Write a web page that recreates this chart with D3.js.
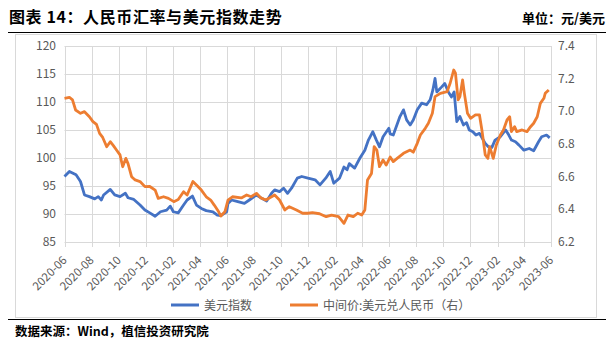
<!DOCTYPE html>
<html>
<head>
<meta charset="utf-8">
<script src="https://cdn.jsdelivr.net/npm/d3@7"></script>
<style>
  body { margin: 0; background: #fff; }
  text { font-family: "Noto Sans CJK SC", "Noto Sans", sans-serif; }
</style>
</head>
<body>
<script>
// 美元指数 (left axis)
const dxy = [
  ["2020-06-01", 96.7], ["2020-06-12", 97.6], ["2020-06-27", 97.0], ["2020-07-07", 95.8],
  ["2020-07-16", 93.4], ["2020-07-27", 93.1], ["2020-08-08", 92.7], ["2020-08-16", 93.1],
  ["2020-08-23", 92.5], ["2020-08-28", 93.4], ["2020-09-12", 94.4], ["2020-09-22", 93.4],
  ["2020-10-04", 93.1], ["2020-10-16", 93.7], ["2020-10-22", 92.9], ["2020-11-04", 92.6],
  ["2020-11-18", 91.6], ["2020-11-29", 90.7], ["2020-12-10", 90.2], ["2020-12-22", 89.6],
  ["2021-01-03", 90.4], ["2021-01-17", 90.7], ["2021-01-25", 91.4], ["2021-02-01", 90.4],
  ["2021-02-12", 90.2], ["2021-02-24", 91.6], ["2021-03-04", 92.5], ["2021-03-16", 93.2],
  ["2021-03-25", 91.6], ["2021-04-05", 91.0], ["2021-04-16", 90.6], ["2021-05-01", 90.4],
  ["2021-05-11", 89.8], ["2021-05-19", 89.7], ["2021-06-01", 90.4], ["2021-06-04", 91.9],
  ["2021-06-12", 92.5], ["2021-06-26", 92.2], ["2021-07-11", 91.9], ["2021-07-22", 92.5],
  ["2021-08-07", 93.4], ["2021-08-19", 92.8], ["2021-08-30", 92.3], ["2021-09-10", 93.7],
  ["2021-09-17", 94.3], ["2021-09-28", 94.0], ["2021-10-07", 94.6], ["2021-10-16", 93.7],
  ["2021-10-25", 94.6], ["2021-11-07", 96.4], ["2021-11-17", 96.7], ["2021-12-01", 96.4],
  ["2021-12-17", 96.1], ["2021-12-28", 95.2], ["2022-01-10", 96.4], ["2022-01-20", 97.6],
  ["2022-01-28", 95.5], ["2022-02-10", 96.4], ["2022-02-20", 98.4], ["2022-02-27", 97.9],
  ["2022-03-04", 99.0], ["2022-03-16", 98.2], ["2022-03-28", 100.0], ["2022-04-08", 101.4],
  ["2022-04-16", 103.2], ["2022-04-26", 104.7], ["2022-05-04", 103.2], ["2022-05-11", 102.0],
  ["2022-05-19", 103.8], ["2022-06-01", 105.3], ["2022-06-04", 104.3], ["2022-06-11", 104.1],
  ["2022-06-26", 107.4], ["2022-07-04", 108.6], ["2022-07-11", 106.8], ["2022-07-19", 105.9],
  ["2022-07-26", 106.8], ["2022-08-04", 108.6], ["2022-08-14", 109.8], ["2022-08-25", 109.5],
  ["2022-09-02", 110.4], ["2022-09-08", 112.1], ["2022-09-13", 114.2], ["2022-09-17", 111.8],
  ["2022-09-28", 112.7], ["2022-10-05", 113.3], ["2022-10-13", 111.8], ["2022-10-20", 110.9],
  ["2022-10-26", 111.8], ["2022-11-01", 106.5], ["2022-11-08", 107.4], ["2022-11-16", 105.9],
  ["2022-11-23", 106.3], ["2022-11-29", 105.0], ["2022-12-07", 104.7], ["2022-12-14", 104.1],
  ["2022-12-22", 104.4], ["2023-01-04", 102.6], ["2023-01-11", 102.0], ["2023-01-19", 101.9],
  ["2023-01-26", 103.2], ["2023-02-07", 103.8], ["2023-02-19", 105.0], ["2023-02-26", 104.1],
  ["2023-03-04", 103.2], ["2023-03-13", 102.9], ["2023-03-21", 102.3], ["2023-04-01", 101.4],
  ["2023-04-13", 101.7], ["2023-04-23", 101.3], ["2023-05-04", 102.9], ["2023-05-11", 103.8],
  ["2023-05-22", 104.1], ["2023-05-29", 103.6]
];

// 中间价:美元兑人民币 (right axis)
const cny = [
  ["2020-06-01", 7.080], ["2020-06-12", 7.086], ["2020-06-19", 7.070], ["2020-06-26", 7.008],
  ["2020-07-07", 6.988], ["2020-07-16", 6.998], ["2020-07-27", 6.967], ["2020-08-04", 6.937],
  ["2020-08-12", 6.920], ["2020-08-19", 6.865], ["2020-08-26", 6.840], ["2020-09-04", 6.783],
  ["2020-09-12", 6.814], ["2020-09-19", 6.790], ["2020-09-26", 6.763], ["2020-10-04", 6.733],
  ["2020-10-10", 6.661], ["2020-10-17", 6.712], ["2020-10-22", 6.680], ["2020-10-30", 6.600],
  ["2020-11-07", 6.580], ["2020-11-18", 6.570], ["2020-11-29", 6.539], ["2020-12-10", 6.540],
  ["2020-12-22", 6.518], ["2020-12-29", 6.467], ["2021-01-10", 6.477], ["2021-01-21", 6.467],
  ["2021-02-02", 6.447], ["2021-02-12", 6.460], ["2021-02-24", 6.508], ["2021-03-04", 6.488],
  ["2021-03-17", 6.570], ["2021-03-25", 6.549], ["2021-04-05", 6.518], ["2021-04-16", 6.477],
  ["2021-04-26", 6.457], ["2021-05-04", 6.426], ["2021-05-14", 6.385], ["2021-05-19", 6.359],
  ["2021-05-28", 6.385], ["2021-06-04", 6.457], ["2021-06-14", 6.477], ["2021-07-04", 6.470],
  ["2021-07-16", 6.488], ["2021-07-26", 6.477], ["2021-08-07", 6.498], ["2021-08-17", 6.470],
  ["2021-08-28", 6.457], ["2021-09-10", 6.477], ["2021-09-17", 6.488], ["2021-09-28", 6.457],
  ["2021-10-10", 6.396], ["2021-10-20", 6.416], ["2021-11-05", 6.396], ["2021-11-19", 6.376],
  ["2021-12-01", 6.376], ["2021-12-11", 6.380], ["2021-12-27", 6.373], ["2022-01-11", 6.355],
  ["2022-01-23", 6.365], ["2022-02-08", 6.355], ["2022-02-20", 6.314], ["2022-03-01", 6.365],
  ["2022-03-13", 6.355], ["2022-03-23", 6.376], ["2022-04-01", 6.365], ["2022-04-08", 6.396],
  ["2022-04-14", 6.580], ["2022-04-23", 6.620], ["2022-04-29", 6.784], ["2022-05-05", 6.763],
  ["2022-05-11", 6.661], ["2022-05-19", 6.702], ["2022-05-26", 6.671], ["2022-06-04", 6.720],
  ["2022-06-11", 6.692], ["2022-06-19", 6.710], ["2022-07-04", 6.743], ["2022-07-19", 6.763],
  ["2022-07-26", 6.750], ["2022-08-04", 6.804], ["2022-08-11", 6.855], ["2022-08-22", 6.896],
  ["2022-08-29", 6.927], ["2022-09-07", 6.988], ["2022-09-13", 7.090], ["2022-09-25", 7.110],
  ["2022-10-10", 7.120], ["2022-10-17", 7.172], ["2022-10-25", 7.253], ["2022-10-29", 7.233],
  ["2022-11-04", 7.070], ["2022-11-08", 7.090], ["2022-11-14", 7.192], ["2022-11-18", 7.110],
  ["2022-11-25", 6.988], ["2022-12-02", 6.957], ["2022-12-13", 6.978], ["2022-12-22", 6.978],
  ["2022-12-28", 6.876], ["2023-01-04", 6.733], ["2023-01-10", 6.712], ["2023-01-14", 6.784],
  ["2023-01-22", 6.712], ["2023-01-29", 6.794], ["2023-02-07", 6.855], ["2023-02-14", 6.886],
  ["2023-02-22", 6.947], ["2023-02-28", 6.967], ["2023-03-04", 6.876], ["2023-03-11", 6.906],
  ["2023-03-16", 6.876], ["2023-03-28", 6.886], ["2023-04-08", 6.876], ["2023-04-16", 6.906],
  ["2023-04-23", 6.927], ["2023-05-01", 6.967], ["2023-05-08", 7.049], ["2023-05-16", 7.080],
  ["2023-05-19", 7.110], ["2023-05-27", 7.131]
];

const leftTicks = [85, 90, 95, 100, 105, 110, 115, 120];
const rightTicks = [6.2, 6.4, 6.6, 6.8, 7.0, 7.2, 7.4];
const seriesNames = ["美元指数", "中间价:美元兑人民币（右）"];
const colors = ["#4472C4", "#ED7D31"];

const W = 614, H = 353;
const plotL = 64.5, plotR = 551, plotT = 46, plotB = 242;
const parse = d3.timeParse("%Y-%m-%d");

const svg = d3.select("body").append("svg")
    .attr("width", W)
    .attr("height", H);

// title + header rule
svg.append("text")
    .attr("x", 9).attr("y", 23)
    .attr("font-size", 16).attr("font-weight", "bold")
    .attr("letter-spacing", 0.6)
    .text("图表 14：人民币汇率与美元指数走势");
svg.append("text")
    .attr("x", 605).attr("y", 23)
    .attr("text-anchor", "end")
    .attr("font-size", 13).attr("font-weight", "bold")
    .text("单位：元/美元");
svg.append("line")
    .attr("x1", 8).attr("x2", 606).attr("y1", 32.5).attr("y2", 32.5)
    .attr("stroke", "#000").attr("stroke-width", 1.2);

// chart frame
svg.append("rect")
    .attr("x", 15.5).attr("y", 34.5).attr("width", 581).attr("height", 283)
    .attr("fill", "none").attr("stroke", "#D9D9D9");

svg.append("line")
    .attr("x1", 8).attr("x2", 606).attr("y1", 319.5).attr("y2", 319.5)
    .attr("stroke", "#000").attr("stroke-width", 1.2);
svg.append("text")
    .attr("x", 15).attr("y", 336)
    .attr("font-size", 12.5).attr("font-weight", "bold")
    .text("数据来源：Wind，植信投资研究院");

const x = d3.scaleTime()
    .domain([new Date(2020, 5, 1), new Date(2023, 5, 1)])
    .range([plotL, plotR]);
const yL = d3.scaleLinear().domain([85, 120]).range([plotB, plotT]);
const yR = d3.scaleLinear().domain([6.2, 7.4]).range([plotB, plotT]);

const monthTicks = d3.timeMonth.range(new Date(2020, 5, 1), new Date(2023, 5, 2), 2);

// grid
const grid = svg.append("g").attr("stroke", "#D9D9D9").attr("stroke-width", 1);
grid.selectAll("line.h").data(leftTicks).enter().append("line")
    .attr("x1", plotL).attr("x2", plotR)
    .attr("y1", d => Math.round(yL(d)) + 0.5).attr("y2", d => Math.round(yL(d)) + 0.5);
grid.selectAll("line.v").data(monthTicks).enter().append("line")
    .attr("x1", d => Math.round(x(d)) + 0.5).attr("x2", d => Math.round(x(d)) + 0.5)
    .attr("y1", plotT).attr("y2", plotB + 5);

// left axis labels
svg.append("g").selectAll("text").data(leftTicks).enter().append("text")
    .attr("x", 56).attr("y", d => yL(d) + 4)
    .attr("text-anchor", "end").attr("font-size", 12).attr("fill", "#595959")
    .text(d => d);

// right axis labels
svg.append("g").selectAll("text").data(rightTicks).enter().append("text")
    .attr("x", 558).attr("y", d => yR(d) + 4)
    .attr("font-size", 12).attr("fill", "#595959")
    .text(d3.format(".1f"));

// x labels
const fmt = d3.timeFormat("%Y-%m");
svg.append("g").selectAll("text").data(monthTicks).enter().append("text")
    .attr("transform", d => `translate(${x(d) + 3}, ${plotB + 19}) rotate(-45)`)
    .attr("text-anchor", "end").attr("font-size", 11.5).attr("fill", "#595959")
    .text(d => fmt(d));

// lines
const lineL = d3.line().x(d => x(parse(d[0]))).y(d => yL(d[1]));
const lineR = d3.line().x(d => x(parse(d[0]))).y(d => yR(d[1]));

svg.append("path")
    .attr("fill", "none").attr("stroke", colors[0]).attr("stroke-width", 2.8)
    .attr("stroke-linejoin", "round")
    .attr("d", lineL(dxy));
svg.append("path")
    .attr("fill", "none").attr("stroke", colors[1]).attr("stroke-width", 2.8)
    .attr("stroke-linejoin", "round")
    .attr("d", lineR(cny));

// legend
const legendX = [171, 290];
const legend = svg.append("g");
seriesNames.forEach((name, i) => {
    legend.append("line")
        .attr("x1", legendX[i]).attr("x2", legendX[i] + 28)
        .attr("y1", 305).attr("y2", 305)
        .attr("stroke", colors[i]).attr("stroke-width", 3);
    legend.append("text")
        .attr("x", legendX[i] + 33).attr("y", 309.5)
        .attr("font-size", 12).attr("fill", "#595959")
        .text(name);
});
</script>
</body>
</html>
